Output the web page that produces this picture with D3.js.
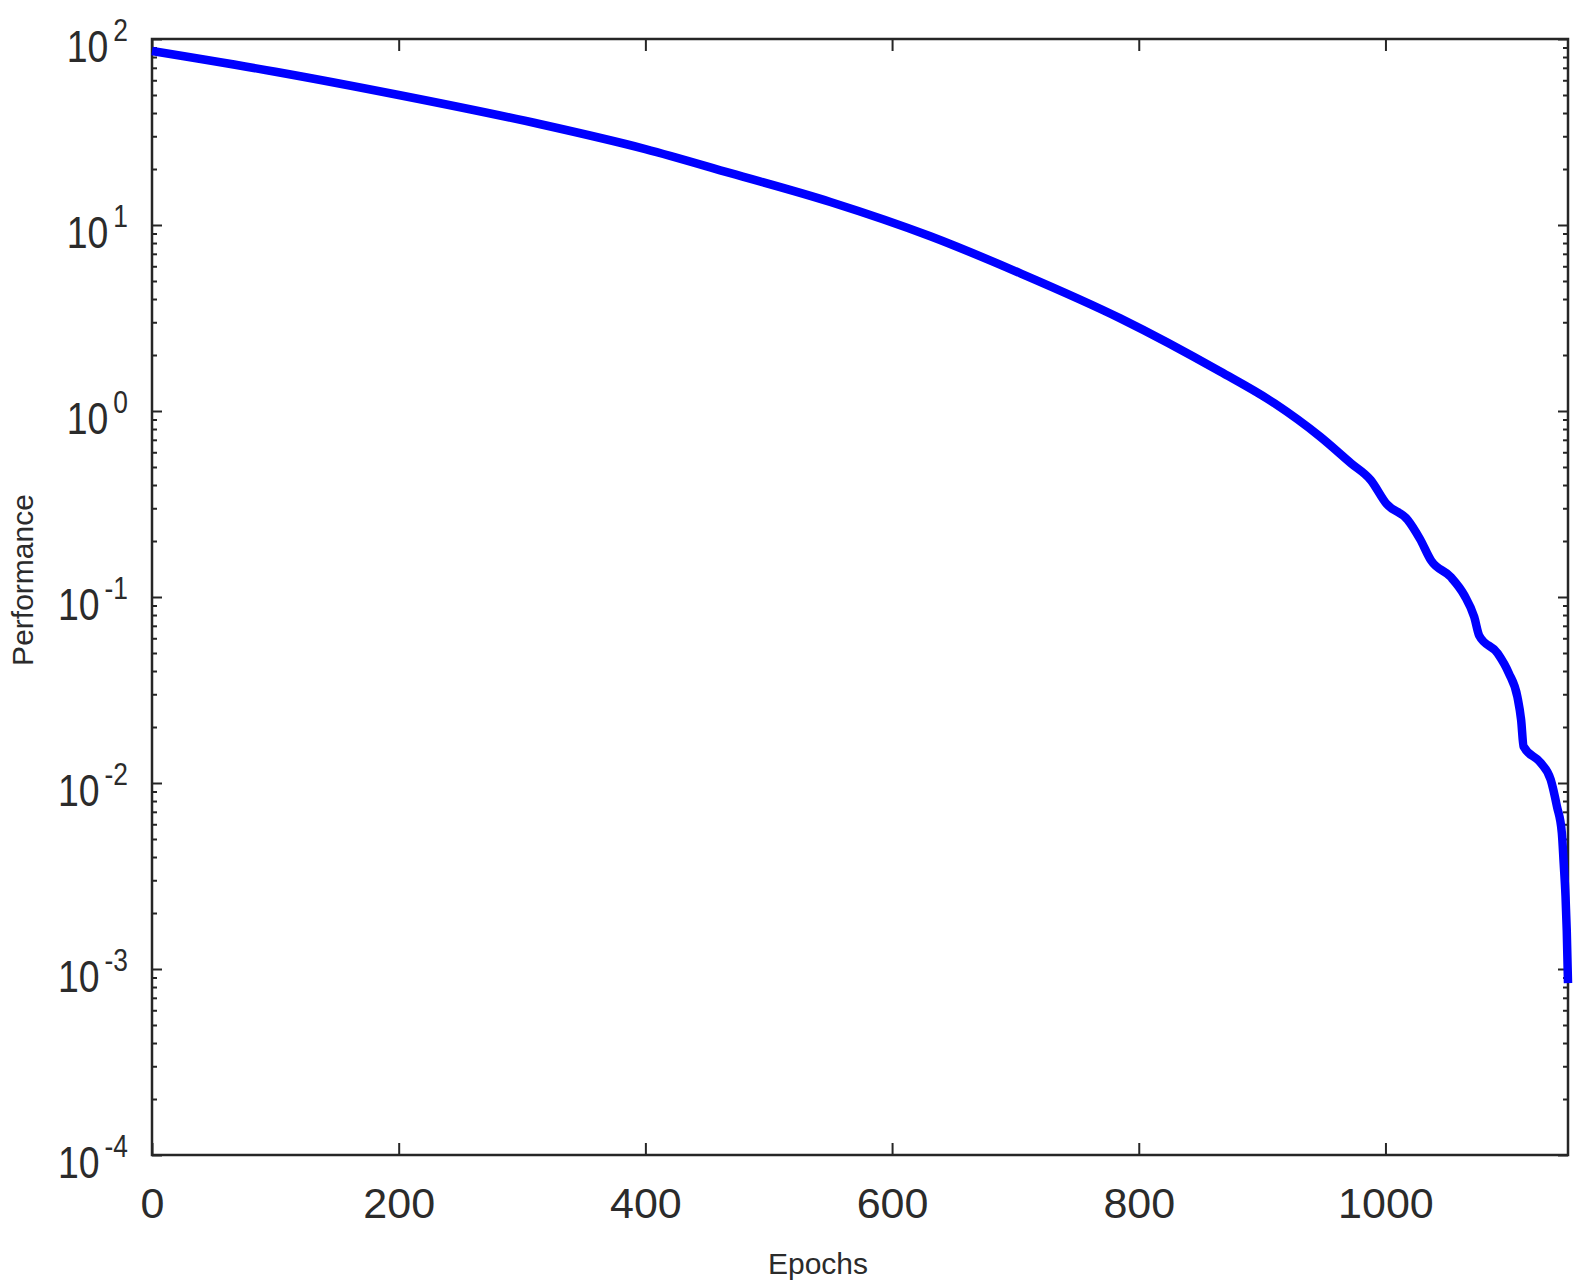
<!DOCTYPE html>
<html>
<head>
<meta charset="utf-8">
<script src="https://cdn.jsdelivr.net/npm/d3@7"></script>
<style>
  body { margin: 0; background: #fff; }
  text { font-family: "Liberation Sans", Arial, sans-serif; fill: #2b2b2b; }
</style>
</head>
<body>
<div id="chart"></div>
<script>
let epochs = [
  0, 100, 200, 315, 400, 469, 550, 631, 704, 785, 866, 910, 947,
  972, 988, 1001, 1018, 1028, 1037, 1053, 1064, 1072, 1076, 1091,
  1100, 1107, 1110, 1112, 1126, 1134, 1139, 1143, 1144.5, 1146, 1147, 1148
];
let performance = [
  86.2, 66.7, 50.0, 34.8, 25.6, 19.0, 13.3, 8.7, 5.5, 3.15, 1.63, 1.1, 0.728,
  0.524, 0.426, 0.316, 0.26, 0.205, 0.157, 0.128, 0.102, 0.078, 0.062, 0.0498,
  0.039, 0.029, 0.0218, 0.0157, 0.0128, 0.0104, 0.0075, 0.0054, 0.0037, 0.00245, 0.0016, 0.00084
];

let xTicks = [0, 200, 400, 600, 800, 1000];
let yExponents = [2, 1, 0, -1, -2, -3, -4];

let margin = {
  top:    39,
  right:  24,
  bottom: 133,
  left:   152
};

let exteriorWidth  = 1592,
    exteriorHeight = 1288;

let interiorWidth  = exteriorWidth - margin.left - margin.right,
    interiorHeight = exteriorHeight - margin.top - margin.bottom;

let data = epochs.map(function(e, i) { return {epoch: e, perf: performance[i]}; });

let svg =
  d3.select("#chart")
    .append("svg")
      .attr("width", exteriorWidth)
      .attr("height", exteriorHeight)
    .append("g")
      .attr("transform", translate(margin.left, margin.top));

let x =
  d3.scaleLinear()
    .domain([0, 1148])
    .range([0, interiorWidth]);

let y =
  d3.scaleLog()
    .domain([1e-4, 1e2])
    .range([interiorHeight, 0]);

let yMajor = yExponents.map(function(k) { return Math.pow(10, k); });
let yMinor = [];
yExponents.slice(1).forEach(function(k) {
  for (let m = 2; m <= 9; m++) yMinor.push(m * Math.pow(10, k));
});

// ticks, all pointing inward
function addAxis(axis, tx, ty) {
  let g = svg.append("g")
      .attr("transform", translate(tx, ty))
      .call(axis);
  g.select(".domain").remove();
  g.selectAll("line").attr("stroke", "#262626").attr("stroke-width", 2);
  return g;
}

let xBottom = addAxis(
  d3.axisBottom(x).tickValues(xTicks).tickFormat(d3.format("d"))
    .tickSizeInner(-12).tickSizeOuter(0).tickPadding(32),
  0, interiorHeight);
xBottom.selectAll("text")
    .style("font-size", "43px")
    .style("font-family", "Liberation Sans, Arial, sans-serif")
    .attr("fill", "#2b2b2b");

addAxis(d3.axisTop(x).tickValues(xTicks).tickSizeInner(-12).tickSizeOuter(0).tickFormat(""), 0, 0);
addAxis(d3.axisLeft(y).tickValues(yMajor).tickSizeInner(-10).tickSizeOuter(0).tickFormat(""), 0, 0);
addAxis(d3.axisLeft(y).tickValues(yMinor).tickSizeInner(-5).tickSizeOuter(0).tickFormat(""), 0, 0);
addAxis(d3.axisRight(y).tickValues(yMajor).tickSizeInner(-10).tickSizeOuter(0).tickFormat(""), interiorWidth, 0);
addAxis(d3.axisRight(y).tickValues(yMinor).tickSizeInner(-5).tickSizeOuter(0).tickFormat(""), interiorWidth, 0);

// y tick labels as 10^k
let ylab = svg.selectAll(".ylab")
    .data(yExponents)
  .enter().append("text")
    .attr("class", "ylab")
    .attr("text-anchor", "end")
    .attr("transform", function(k) {
      return translate(-24, y(Math.pow(10, k)) + 23) + " scale(0.85,1)";
    });
ylab.append("tspan")
    .style("font-size", "44px")
    .text("10");
ylab.append("tspan")
    .attr("dx", 6)
    .attr("dy", -21)
    .style("font-size", "31px")
    .text(function(k) { return String(k); });

// box
svg.append("rect")
    .attr("width", interiorWidth)
    .attr("height", interiorHeight)
    .attr("fill", "none")
    .attr("stroke", "#262626")
    .attr("stroke-width", 2.5);

let line =
  d3.line()
    .x(function(d) { return x(d.epoch); })
    .y(function(d) { return y(d.perf); })
    .curve(d3.curveMonotoneX);

svg.append("path")
    .datum(data)
    .attr("d", line)
    .attr("fill", "none")
    .attr("stroke", "#0000ff")
    .attr("stroke-width", 8.5)
    .attr("stroke-linejoin", "round");

svg.append("text")
    .attr("x", 818 - margin.left)
    .attr("y", 1274 - margin.top)
    .attr("text-anchor", "middle")
    .style("font-size", "30px")
    .text("Epochs");

svg.append("text")
    .attr("transform", translate(33 - margin.left, 580 - margin.top) + " rotate(-90)")
    .attr("text-anchor", "middle")
    .style("font-size", "30px")
    .text("Performance");

function translate(x, y=0) {
  return "translate({x}, {y})"
          .replace("{x}", x)
          .replace("{y}", y);
}
</script>
</body>
</html>
